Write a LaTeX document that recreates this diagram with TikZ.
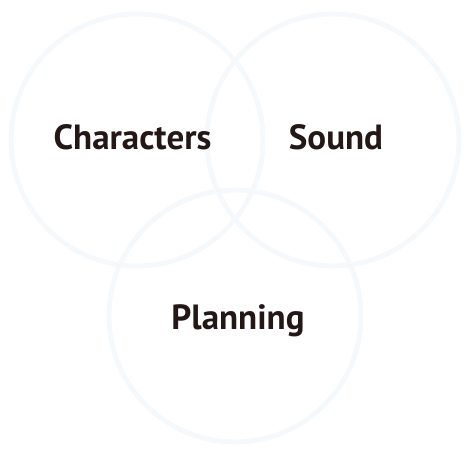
\documentclass[tikz,border=0pt]{standalone}
\usepackage{fontspec}
\setmainfont{PT Sans}
\usepackage{tikz}
\definecolor{vink}{HTML}{231815}
\definecolor{vring}{HTML}{F6F9FB}
\tikzset{
  ring/.style={circle, draw=vring, line width=5pt, minimum size=252pt, inner sep=0pt},
  lbl/.style={text=vink, font=\fontsize{35}{38}\selectfont\bfseries}
}

\begin{document}
\begin{tikzpicture}[x=1pt, y=-1pt]
  \useasboundingbox (0,0) rectangle (474,458);
  \node[ring] (chars) at (137,140) {};
  \node[ring] (sound) at (333,140) {};
  \node[ring] (plan) at (235,316) {};

  \node[lbl, anchor=base] (charslbl) at (132.5,149) {Characters};
  \node[lbl, anchor=base] (soundlbl) at (336,149) {Sound};
  \node[lbl, anchor=base] (planlbl) at (238,329) {Planning};
\end{tikzpicture}
\end{document}
